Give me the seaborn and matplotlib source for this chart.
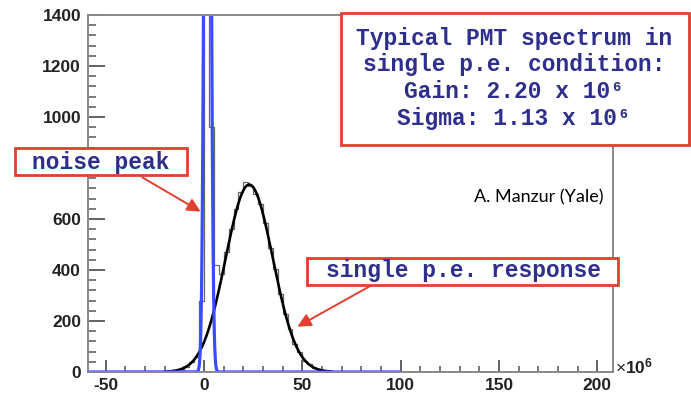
import numpy as np
import pandas as pd
import seaborn as sns
import matplotlib
matplotlib.use("Agg")
import matplotlib.pyplot as plt

# ---------------- data ----------------
hist_start = -20.0          # left edge of the first bin (x10^6)
hist_width = 2.5            # bin width (x10^6)
hist_counts = [2, 3, 8, 12, 20, 40, 58, 280, 5200, 960, 420, 385, 470,
               560, 640, 705, 745, 728, 700, 660, 585, 488, 405, 305,
               228, 170, 108, 78, 42, 30, 14, 9, 5, 2, 1, 0]

# Gaussian fits: amplitude, mean, sigma, fit range
noise_fit = {"amp": 5100.0, "mean": 1.8, "sigma": 1.3, "lo": -59.0, "hi": 100.0}
spe_fit = {"amp": 735.0, "mean": 23.0, "sigma": 12.0, "lo": -20.0, "hi": 65.0}

x_ticks = [-50, 0, 50, 100, 150, 200]
y_ticks = [0, 200, 400, 600, 800, 1000, 1200, 1400]
y_tick_labels = ["0", "200", "400", "600", "", "1000", "1200", "1400"]  # 800 hidden by label box

# ---------------- figure ----------------
sns.set_style("white")
plt.rcParams["font.family"] = ["Liberation Sans", "DejaVu Sans"]
plt.rcParams["axes.unicode_minus"] = False
plt.rcParams["mathtext.fontset"] = "custom"
plt.rcParams["mathtext.rm"] = "Liberation Sans"
plt.rcParams["mathtext.bf"] = "Liberation Sans:bold"

fig = plt.figure(figsize=(6.91, 3.95), dpi=100)
ax = fig.add_axes([88 / 691, 23 / 395, (613 - 88) / 691, (372 - 15) / 395])

n_bins = len(hist_counts)
centers = hist_start + hist_width * (np.arange(n_bins) + 0.5)
hdf = pd.DataFrame({"x": centers, "w": hist_counts})
sns.histplot(data=hdf, x="x", weights="w", binwidth=hist_width,
             binrange=(hist_start, hist_start + hist_width * n_bins),
             element="step", fill=False, color="#666666", linewidth=0.9, ax=ax)


def fit_frame(p, n=1500):
    xs = np.linspace(p["lo"], p["hi"], n)
    ys = p["amp"] * np.exp(-0.5 * ((xs - p["mean"]) / p["sigma"]) ** 2)
    return pd.DataFrame({"x": xs, "y": ys})


sns.lineplot(data=fit_frame(spe_fit), x="x", y="y", color="black",
             linewidth=1.9, ax=ax, sort=False)
sns.lineplot(data=fit_frame(noise_fit, 6000), x="x", y="y", color="#3a4cff",
             linewidth=2.3, ax=ax, sort=False)

ax.set_xlim(-59, 208)
ax.set_ylim(0, 1400)
ax.set_xlabel("")
ax.set_ylabel("")
ax.set_xticks(x_ticks)
ax.set_xticklabels([str(v) for v in x_ticks])
ax.set_yticks(y_ticks)
ax.set_yticklabels(y_tick_labels)
ax.set_xticks(np.arange(-50, 210, 10), minor=True)
ax.set_yticks(np.arange(0, 1401, 40), minor=True)
ax.tick_params(axis="both", which="both", direction="in", bottom=True,
               left=True, top=False, right=False, color="#555555")
ax.tick_params(axis="y", which="major", length=12, width=1.3,
               labelsize=12.5, pad=5)
ax.tick_params(axis="y", which="minor", length=6, width=1.1)
ax.tick_params(axis="x", which="major", length=9, width=1.3,
               labelsize=12.5, pad=4)
ax.tick_params(axis="x", which="minor", length=4.5, width=1.1)
for lab in ax.get_xticklabels() + ax.get_yticklabels():
    lab.set_fontweight("bold")
    lab.set_color("#222222")
for s in ax.spines.values():
    s.set_color("#888888")
    s.set_linewidth(1.4)

fig.text(615 / 691, 1 - 366 / 395, r"$\times\mathbf{10^{6}}$", fontsize=12.5,
         color="#222222", ha="left", va="center")

fig.text(603 / 691, 1 - 197 / 395, "A. Manzur (Yale)", fontsize=13,
         family=["Lato", "DejaVu Sans"], ha="right", va="center", color="black")

mono = ["Liberation Mono", "DejaVu Sans Mono"]
txt_col = "#2e2e8c"
red = "#e0402f"
box_fs = 16.5

# big info box
fig.patches.append(plt.Rectangle((341 / 691, 1 - 145 / 395), (689 - 341) / 691,
                                 (145 - 13) / 395, transform=fig.transFigure,
                                 facecolor="white", edgecolor=red, linewidth=2.0,
                                 zorder=5))
for yy, line in zip([38, 65, 92, 118],
                    ["Typical PMT spectrum in", "single p.e. condition:",
                     "Gain: 2.20 x 10⁶", "Sigma: 1.13 x 10⁶"]):
    fig.text(514 / 691, 1 - yy / 395, line, fontsize=box_fs, fontweight="bold",
             family=mono, color=txt_col, ha="center", va="center", zorder=6)

# noise peak label
fig.patches.append(plt.Rectangle((15 / 691, 1 - 175 / 395), (187 - 15) / 691,
                                 (175 - 148) / 395, transform=fig.transFigure,
                                 facecolor="white", edgecolor=red, linewidth=2.0,
                                 zorder=5))
fig.text(101 / 691, 1 - 162 / 395, "noise peak", fontsize=box_fs,
         fontweight="bold", family=mono, color=txt_col, ha="center",
         va="center", zorder=6)
fig.add_artist(matplotlib.patches.FancyArrowPatch(
    (140 / 691, 1 - 176 / 395), (203 / 691, 1 - 213 / 395),
    transform=fig.transFigure, arrowstyle="-|>,head_length=8,head_width=4",
    color=red, linewidth=1.4, zorder=6))

# single p.e. response label
fig.patches.append(plt.Rectangle((307 / 691, 1 - 285 / 395), (618 - 307) / 691,
                                 (285 - 258) / 395, transform=fig.transFigure,
                                 facecolor="white", edgecolor=red, linewidth=2.0,
                                 zorder=5))
fig.text(463 / 691, 1 - 271 / 395, "single p.e. response", fontsize=box_fs,
         fontweight="bold", family=mono, color=txt_col, ha="center",
         va="center", zorder=6)
fig.add_artist(matplotlib.patches.FancyArrowPatch(
    (372 / 691, 1 - 285 / 395), (295 / 691, 1 - 328 / 395),
    transform=fig.transFigure, arrowstyle="-|>,head_length=8,head_width=4",
    color=red, linewidth=1.4, zorder=6))

fig.savefig("out.png", dpi=100)
